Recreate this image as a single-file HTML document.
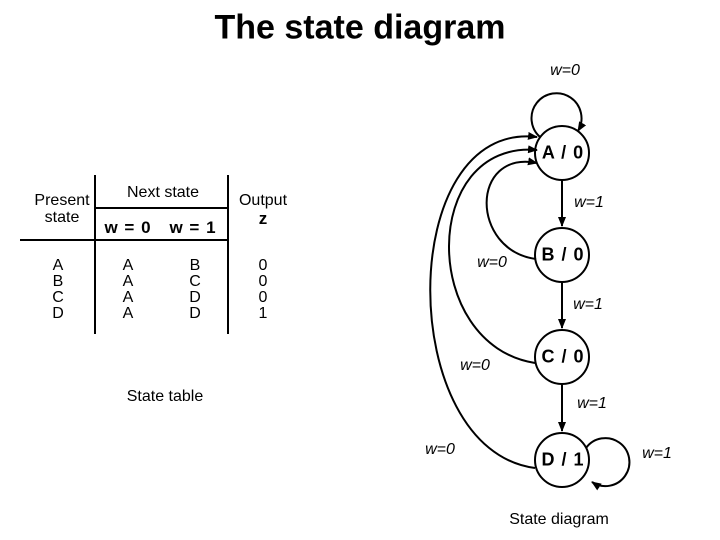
<!DOCTYPE html>
<html><head><style>
body{margin:0;background:#fff;width:720px;height:540px;overflow:hidden;position:relative;font-family:"Liberation Sans",sans-serif}
.t{position:absolute;transform:translate(-50%,-50%);white-space:nowrap;color:#000}
</style></head><body>
<div class="t" style="left:360px;top:28px;font-size:34px;font-weight:bold">The state diagram</div>
<svg width="720" height="540" style="position:absolute;left:0;top:0">
<defs><marker id="a" markerWidth="10" markerHeight="8" refX="9" refY="4" orient="auto" markerUnits="userSpaceOnUse"><path d="M0,0L10,4L0,8z" fill="#000"/></marker></defs>
<g stroke="#000" stroke-width="2" fill="none">
<line x1="20" y1="240" x2="228" y2="240"/>
<line x1="95" y1="208" x2="228" y2="208"/>
<line x1="95" y1="175" x2="95" y2="334"/>
<line x1="228" y1="175" x2="228" y2="334"/>
<circle cx="562" cy="153" r="27"/>
<circle cx="562" cy="255" r="27"/>
<circle cx="562" cy="357" r="27"/>
<circle cx="562" cy="460" r="27"/>
<path d="M540,137 A25,25 0 1 1 578,131" marker-end="url(#a)"/>
<path d="M562,180 L562,226" marker-end="url(#a)"/>
<path d="M562,282 L562,328" marker-end="url(#a)"/>
<path d="M562,384 L562,431" marker-end="url(#a)"/>
<path d="M536,259 C470,250 470,150 537,163" marker-end="url(#a)"/>
<path d="M535,363 C420,345 420,140 537,150" marker-end="url(#a)"/>
<path d="M535,468 C395,450 395,120 537,137" marker-end="url(#a)"/>
<path d="M586,448 A24,24 0 1 1 592,482" marker-end="url(#a)"/>
</g>
</svg>
<div class="t" style="left:62px;top:201px;font-size:16px">Present</div>
<div class="t" style="left:62px;top:218px;font-size:16px">state</div>
<div class="t" style="left:163px;top:193px;font-size:16px">Next state</div>
<div class="t" style="left:128px;top:228px;font-size:17px;font-weight:bold;letter-spacing:1px">w = 0</div>
<div class="t" style="left:193px;top:228px;font-size:17px;font-weight:bold;letter-spacing:1px">w = 1</div>
<div class="t" style="left:263px;top:201px;font-size:16px">Output</div>
<div class="t" style="left:263px;top:219px;font-size:17px;font-weight:bold">z</div>
<div class="t" style="left:58px;top:290px;font-size:16px;line-height:16px;text-align:center">A<br>B<br>C<br>D</div>
<div class="t" style="left:128px;top:290px;font-size:16px;line-height:16px;text-align:center">A<br>A<br>A<br>A</div>
<div class="t" style="left:195px;top:290px;font-size:16px;line-height:16px;text-align:center">B<br>C<br>D<br>D</div>
<div class="t" style="left:263px;top:290px;font-size:16px;line-height:16px;text-align:center">0<br>0<br>0<br>1</div>
<div class="t" style="left:165px;top:397px;font-size:16px">State table</div>
<div class="t" style="left:563px;top:153px;font-size:18px;font-weight:bold;letter-spacing:1px">A / 0</div>
<div class="t" style="left:563px;top:255px;font-size:18px;font-weight:bold;letter-spacing:1px">B / 0</div>
<div class="t" style="left:563px;top:357px;font-size:18px;font-weight:bold;letter-spacing:1px">C / 0</div>
<div class="t" style="left:563px;top:460px;font-size:18px;font-weight:bold;letter-spacing:1px">D / 1</div>
<div class="t" style="left:565px;top:71px;font-size:16px;font-style:italic">w=0</div>
<div class="t" style="left:589px;top:203px;font-size:16px;font-style:italic">w=1</div>
<div class="t" style="left:588px;top:305px;font-size:16px;font-style:italic">w=1</div>
<div class="t" style="left:592px;top:404px;font-size:16px;font-style:italic">w=1</div>
<div class="t" style="left:657px;top:454px;font-size:16px;font-style:italic">w=1</div>
<div class="t" style="left:492px;top:263px;font-size:16px;font-style:italic">w=0</div>
<div class="t" style="left:475px;top:366px;font-size:16px;font-style:italic">w=0</div>
<div class="t" style="left:440px;top:450px;font-size:16px;font-style:italic">w=0</div>
<div class="t" style="left:559px;top:520px;font-size:16px">State diagram</div>
</body></html>
